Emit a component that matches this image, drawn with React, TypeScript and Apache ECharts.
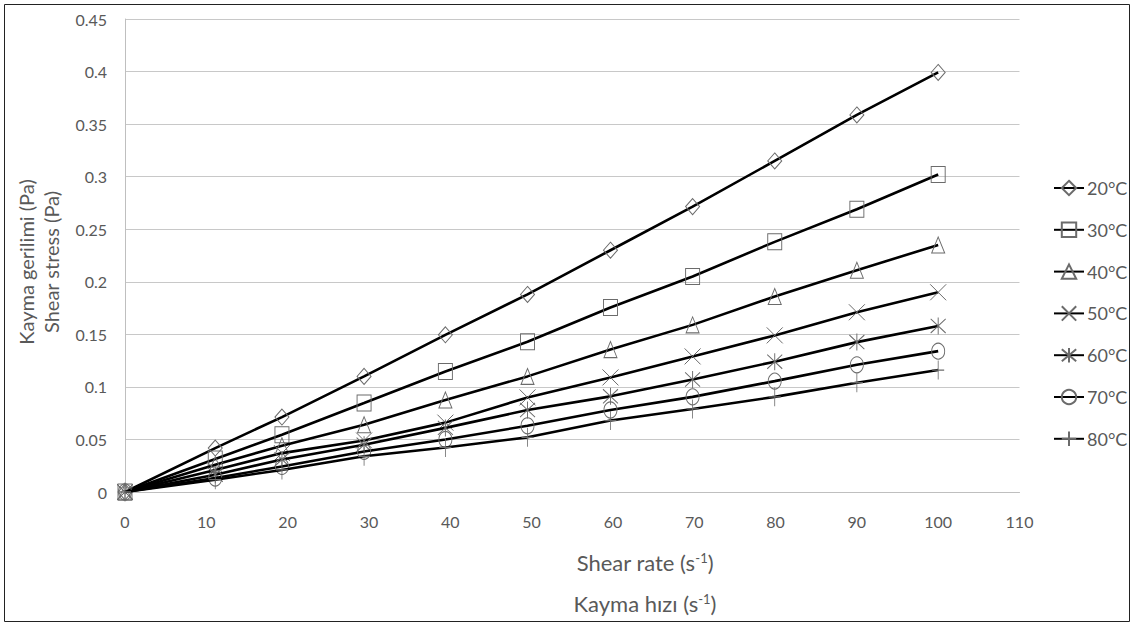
import React, { useEffect, useRef } from "react";
import * as echarts from "echarts";

// Shear rate (s^-1)
const shearRate = [0, 11.1, 19.3, 29.4, 39.4, 49.5, 59.7, 69.8, 79.9, 90, 100];

const seriesNames = ["20°C", "30°C", "40°C", "50°C", "60°C", "70°C", "80°C"];

// Shear stress (Pa)
const stress20 = [0, 0.0418, 0.0713, 0.11, 0.1495, 0.188, 0.23, 0.2715, 0.315, 0.3587, 0.3992];
const stress30 = [0, 0.0314, 0.0545, 0.0846, 0.1147, 0.1429, 0.1755, 0.205, 0.238, 0.269, 0.302];
const stress40 = [0, 0.026, 0.044, 0.064, 0.0875, 0.11, 0.1355, 0.159, 0.186, 0.211, 0.235];
const stress50 = [0, 0.021, 0.037, 0.049, 0.066, 0.09, 0.109, 0.129, 0.149, 0.171, 0.19];
const stress60 = [0, 0.0165, 0.031, 0.045, 0.061, 0.078, 0.091, 0.107, 0.124, 0.1426, 0.158];
const stress70 = [0, 0.0133, 0.0243, 0.0386, 0.05, 0.063, 0.078, 0.0905, 0.1055, 0.121, 0.134];
const stress80 = [0, 0.0117, 0.021, 0.034, 0.0424, 0.052, 0.068, 0.079, 0.0905, 0.104, 0.116];

const allStress = [stress20, stress30, stress40, stress50, stress60, stress70, stress80];

const markerSymbols = [
  "diamond",
  "rect",
  "triangle",
  "path://M0,0L10,10M10,0L0,10",
  "path://M0,0L10,10M10,0L0,10M5,-1L5,11",
  "circle",
  "path://M5,0L5,10M1,5L9,5",
];
const markerSizes: any[] = [
  [14, 16],
  [14, 16],
  [13, 16],
  [16, 16],
  [15, 17],
  [13, 16],
  [12, 19],
];

const FONT = "Lato, 'Open Sans', sans-serif";
const GRAY = "#595959";

export default function App() {
  const ref = useRef<HTMLDivElement>(null);

  useEffect(() => {
    document.body.style.margin = "0";
    if (!ref.current) return;
    const chart = echarts.init(ref.current, undefined, { renderer: "svg" });

    const series = seriesNames.map((name, i) => ({
      name,
      type: "line",
      data: shearRate.map((x, j) => [x, allStress[i][j]]),
      symbol: markerSymbols[i],
      symbolSize: markerSizes[i],
      showSymbol: true,
      lineStyle: { color: "#000", width: 2.6 },
      itemStyle: { color: "rgba(0,0,0,0)", borderColor: "#6b6b6b", borderWidth: 1 },
      emphasis: { disabled: true },
      z: 2 + i,
    }));

    const sup = { fontSize: 13, verticalAlign: "top", fill: GRAY, fontFamily: FONT, padding: [0, 0, 9, 0] };

    const option: any = {
      animation: false,
      textStyle: { fontFamily: FONT },
      grid: { left: 125, right: 115.5, top: 19, bottom: 134 },
      xAxis: {
        type: "value",
        min: 0,
        max: 110,
        interval: 10,
        axisLine: { show: true, lineStyle: { color: "#bfbfbf", width: 1 } },
        axisTick: { show: false },
        splitLine: { show: false },
        axisLabel: { color: GRAY, fontSize: 16, margin: 21, fontFamily: FONT },
      },
      yAxis: {
        type: "value",
        min: 0,
        max: 0.45,
        interval: 0.05,
        axisLine: { show: true, lineStyle: { color: "#bfbfbf", width: 1 } },
        axisTick: { show: false },
        splitLine: { show: true, lineStyle: { color: "#c8c8c8", width: 1 } },
        axisLabel: {
          color: GRAY,
          fontSize: 16,
          margin: 18,
          fontFamily: FONT,
          formatter: (v: number) => String(Math.round(v * 100) / 100),
        },
      },
      legend: {
        orient: "vertical",
        left: 1053,
        top: 179,
        itemWidth: 30,
        itemHeight: 18,
        itemGap: 23.8,
        padding: 0,
        textStyle: { color: GRAY, fontSize: 18, fontFamily: FONT, padding: [0, 0, 0, -2] },
        data: seriesNames,
      },
      graphic: [
        {
          type: "rect",
          shape: { x: 4.5, y: 4.5, width: 1125, height: 617 },
          style: { fill: "none", stroke: "#222", lineWidth: 1 },
          silent: true,
        },
        {
          type: "text",
          x: 26,
          y: 262,
          rotation: Math.PI / 2,
          style: {
            text: "Kayma gerilimi (Pa)",
            fill: GRAY,
            fontSize: 20,
            fontFamily: FONT,
            align: "center",
            verticalAlign: "middle",
          },
        },
        {
          type: "text",
          x: 51,
          y: 262,
          rotation: Math.PI / 2,
          style: {
            text: "Shear stress (Pa)",
            fill: GRAY,
            fontSize: 20,
            fontFamily: FONT,
            align: "center",
            verticalAlign: "middle",
          },
        },
        {
          type: "text",
          x: 645,
          y: 562,
          style: {
            text: "Shear rate (s{sup|-1})",
            fill: GRAY,
            fontSize: 22,
            fontFamily: FONT,
            align: "center",
            verticalAlign: "middle",
            rich: { sup },
          },
        },
        {
          type: "text",
          x: 645,
          y: 603,
          style: {
            text: "Kayma hızı (s{sup|-1})",
            fill: GRAY,
            fontSize: 22,
            fontFamily: FONT,
            align: "center",
            verticalAlign: "middle",
            rich: { sup },
          },
        },
      ],
      series,
    };

    chart.setOption(option);
    return () => chart.dispose();
  }, []);

  return <div ref={ref} style={{ width: 1135, height: 626, background: "#fff" }} />;
}
